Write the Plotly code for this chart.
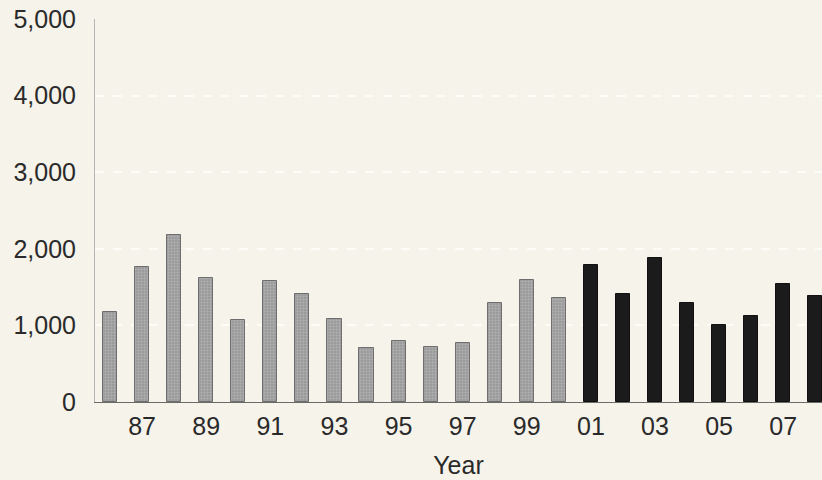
import plotly.graph_objects as go

years_hist = [1986, 1987, 1988, 1989, 1990, 1991, 1992, 1993, 1994, 1995, 1996, 1997, 1998, 1999, 2000]
values_hist = [1180, 1760, 2180, 1620, 1070, 1580, 1410, 1090, 710, 800, 715, 775, 1295, 1590, 1360]

years_recent = [2001, 2002, 2003, 2004, 2005, 2006, 2007, 2008]
values_recent = [1795, 1405, 1885, 1295, 1005, 1125, 1540, 1385]

tick_years = [1987, 1989, 1991, 1993, 1995, 1997, 1999, 2001, 2003, 2005, 2007]
tick_labels = ["87", "89", "91", "93", "95", "97", "99", "01", "03", "05", "07"]

y_ticks = [0, 1000, 2000, 3000, 4000, 5000]
y_labels = ["0", "1,000", "2,000", "3,000", "4,000", "5,000"]

BG = "#f6f3ea"

fig = go.Figure()
fig.add_trace(go.Bar(
    x=years_hist, y=values_hist, width=0.44,
    marker=dict(color="#a0a0a0",
                line=dict(color="#6e6e6e", width=1),
                pattern=dict(shape=".", fgcolor="#c8c8c8", bgcolor="#959595", size=3, solidity=0.5)),
    showlegend=False,
))
fig.add_trace(go.Bar(
    x=years_recent, y=values_recent, width=0.44,
    marker=dict(color="#1b1b1b", line=dict(color="#111111", width=1)),
    showlegend=False,
))

font_family = "Liberation Sans, Arial, sans-serif"

fig.update_layout(
    width=822, height=480,
    margin=dict(l=95, r=0, t=19, b=78),
    paper_bgcolor=BG, plot_bgcolor=BG,
    font=dict(family=font_family, size=25, color="#2a2a2a"),
    bargap=0,
    xaxis=dict(
        range=[1985.53, 2008.21],
        tickvals=tick_years, ticktext=tick_labels,
        showgrid=False, zeroline=False,
        showline=True, linecolor="#6a6a6a", linewidth=1,
        ticks="", ticklabelstandoff=2,
        title=dict(text="Year", font=dict(size=25), standoff=17),
    ),
    yaxis=dict(
        range=[0, 5000],
        tickvals=y_ticks, ticktext=y_labels,
        showgrid=True, gridcolor="#fdfcf7", griddash="dash", gridwidth=1.5,
        zeroline=False,
        showline=True, linecolor="#b5b5b5", linewidth=1,
        ticks="", ticklabelstandoff=13,
    ),
)

fig.write_html(
    "out.html",
    config={"displayModeBar": False},
    post_script="document.body.style.margin='0';document.body.style.background='" + BG + "';",
)
